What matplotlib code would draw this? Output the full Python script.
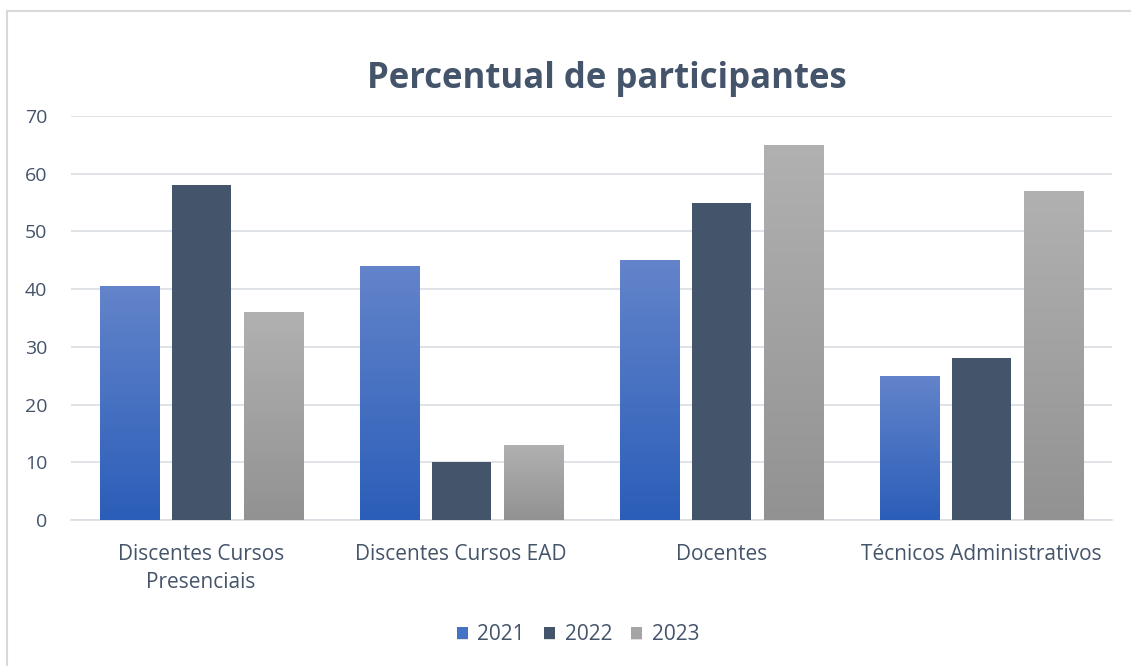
import matplotlib
matplotlib.use("Agg")
import matplotlib.pyplot as plt
import numpy as np
from matplotlib.lines import Line2D
import matplotlib.patheffects as pe

categories = ["Discentes Cursos\nPresenciais", "Discentes Cursos EAD", "Docentes", "Técnicos Administrativos"]
series_names = ["2021", "2022", "2023"]
v2021 = [40.5, 44, 45, 25]
v2022 = [58, 10, 55, 28]
v2023 = [36, 13, 65, 57]
yticks = [0, 10, 20, 30, 40, 50, 60, 70]

values = [v2021, v2022, v2023]
solid = ["#4472C4", "#44546A", "#A5A5A5"]
grad = [("#6384CA", "#2B5EB9"), None, ("#B1B1B1", "#929292")]
textc = "#44546A"

fig = plt.figure(figsize=(11.31, 6.66), dpi=100)
W, H = 1131, 666
# chart frame (top and left edges visible)
fig.lines.append(Line2D([7 / W, 1.0], [1 - 11 / H, 1 - 11 / H], transform=fig.transFigure,
                        color="#D9D9D9", linewidth=1.5))
fig.lines.append(Line2D([7 / W, 7 / W], [0, 1 - 11 / H], transform=fig.transFigure,
                        color="#D9D9D9", linewidth=1.5))
ax = fig.add_axes([0.0628, 0.219, 0.92, 0.607])

x = np.arange(len(categories))
w = 0.227
step = 0.277

def hex2rgb(h):
    return np.array([int(h[i:i+2], 16) / 255 for i in (1, 3, 5)])

for i, (vals, name) in enumerate(zip(values, series_names)):
    xs = x + (i - 1) * step
    bars = ax.bar(xs, vals, width=w, color=solid[i], label=name, zorder=3,
                  path_effects=[pe.SimplePatchShadow(offset=(0, -1), shadow_rgbFace="#000000", alpha=0.12), pe.Normal()])
    if grad[i] is not None:
        top, bot = hex2rgb(grad[i][0]), hex2rgb(grad[i][1])
        for b, v in zip(bars, vals):
            t = np.linspace(0, 1, 256)[:, None]
            img = (top[None, :] * (1 - t) + bot[None, :] * t)[:, None, :]
            x0 = b.get_x()
            im = ax.imshow(img, extent=(x0, x0 + b.get_width(), 0, v), aspect="auto",
                           origin="upper", zorder=4, interpolation="bilinear")
            im.set_clip_path(b)

ax.set_xlim(-0.5, len(categories) - 0.5)
ax.set_ylim(0, 70)
ax.set_yticks(yticks)
ax.set_xticks(x)
ax.set_xticklabels(categories, linespacing=1.45)
ax.grid(axis="y", color="#D9DDE3", linewidth=1.2, zorder=0)
ax.set_axisbelow(True)
for s in ["top", "right", "left"]:
    ax.spines[s].set_visible(False)
ax.spines["bottom"].set_color("#D9DDE3")
ax.spines["bottom"].set_linewidth(1.2)
ax.tick_params(axis="both", length=0)
ax.tick_params(axis="y", labelsize=14, labelcolor=textc, pad=17)
ax.tick_params(axis="x", labelsize=15, labelcolor=textc, pad=17)
for lbl in ax.get_xticklabels() + ax.get_yticklabels():
    lbl.set_fontfamily("Open Sans")

fig.text(0.537, 0.882, "Percentual de participantes", ha="center", va="center",
         fontsize=25, fontweight="bold", color=textc, family="Open Sans")

leg = fig.legend(loc="center", bbox_to_anchor=(0.511, 0.047), ncol=3, frameon=False,
                 handlelength=0.55, handleheight=0.55, handletextpad=0.45, columnspacing=0.9,
                 prop={"family": "Open Sans", "size": 15})
for t in leg.get_texts():
    t.set_color(textc)

fig.savefig("out.png", dpi=100)
